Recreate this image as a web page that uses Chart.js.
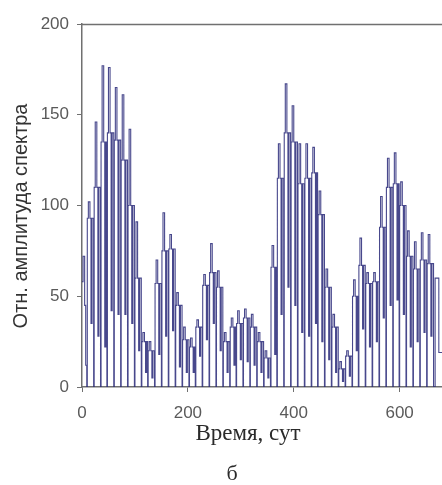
<!DOCTYPE html>
<html>
<head>
<meta charset="utf-8">
<script src="https://cdn.jsdelivr.net/npm/chart.js@4/dist/chart.umd.min.js"></script>
<style>
  html, body { margin: 0; padding: 0; background: #fff; }
  #wrap { width: 442px; height: 485px; position: relative; }
</style>
</head>
<body>
<div id="wrap"><canvas id="chart"></canvas></div>
<script>
// Leading segment before the first full cycle (days, values)
const leadDays = [0, 2, 5, 7];
const leadValues = [58, 72, 45, 12];

// Day of each cycle start (signal touches zero)
const cycleStart = [9, 22, 35, 47, 60, 73, 86, 99, 112, 124, 137, 150, 163, 176, 189, 202, 214,
  227, 240, 253, 266, 279, 291, 304, 317, 330, 343, 356, 368, 381, 394, 407, 420, 433,
  445, 458, 471, 484, 497, 510, 522, 535, 548, 561, 574, 587, 599, 612, 625, 638, 651];

// Peak level of each cycle
const cyclePeak = [102, 146, 177, 176, 165, 161, 142, 91, 30, 25, 70, 96, 84, 52, 33, 27, 37,
  62, 79, 64, 30, 38, 42, 43, 40, 30, 20, 78, 134, 167, 155, 134, 134,
  132, 108, 65, 40, 14, 20, 59, 82, 63, 63, 105, 126, 129, 113, 86, 80, 85, 84];

// Shoulder level around the peak
const cycleShoulder = [93, 110, 135, 140, 136, 125, 100, 60, 25, 20, 57, 75, 76, 45, 26, 22, 33,
  56, 63, 55, 25, 33, 35, 38, 33, 25, 16, 66, 115, 140, 135, 112, 115,
  118, 95, 55, 33, 10, 17, 50, 67, 57, 58, 88, 110, 112, 100, 72, 65, 70, 68];

// Partial dip inside each cycle
const cycleDip = [35, 28, 22, 42, 40, 40, 35, 20, 8, 5, 18, 28, 31, 11, 8, 8, 17,
  26, 35, 20, 8, 12, 15, 14, 12, 8, 5, 18, 40, 55, 45, 30, 28,
  35, 25, 15, 8, 3, 6, 20, 32, 22, 25, 38, 45, 48, 40, 22, 25, 30, 28];

// Trailing segment after the last cycle
const tailDays = [664, 667, 674, 680];
const tailValues = [0, 60, 19, 19];

const xTicks = [0, 200, 400, 600];
const yTicks = [0, 50, 100, 150, 200];

const points = [];
leadDays.forEach((d, i) => points.push({ x: d, y: leadValues[i] }));
cycleStart.forEach((z, k) => {
  points.push({ x: z, y: 0 });
  points.push({ x: z + 1, y: cycleShoulder[k] });
  points.push({ x: z + 3, y: cyclePeak[k] });
  points.push({ x: z + 6, y: cycleShoulder[k] });
  points.push({ x: z + 8, y: cycleDip[k] });
  points.push({ x: z + 10, y: cycleShoulder[k] });
});
tailDays.forEach((d, i) => points.push({ x: d, y: tailValues[i] }));

const AXIS = '#707070';
const TICK_TEXT = '#5a5a5a';

const textPlugin = {
  id: 'frameText',
  afterDraw(chart) {
    const { ctx, chartArea } = chart;
    ctx.save();
    // top border
    ctx.strokeStyle = AXIS;
    ctx.lineWidth = 1.5;
    ctx.beginPath();
    ctx.moveTo(chartArea.left, chartArea.top + 0.5);
    ctx.lineTo(chartArea.right, chartArea.top + 0.5);
    ctx.stroke();

    ctx.fillStyle = '#2a2a2a';
    ctx.textAlign = 'center';
    ctx.textBaseline = 'middle';
    ctx.font = '23px "Liberation Serif", "Times New Roman", serif';
    ctx.fillText('Время, сут', 248, 434);
    ctx.font = '22px "Liberation Serif", "Times New Roman", serif';
    ctx.fillText('б', 232, 474);

    ctx.translate(21, 216);
    ctx.rotate(-Math.PI / 2);
    ctx.fillStyle = '#333';
    ctx.font = '20px "Liberation Sans", Arial, sans-serif';
    ctx.fillText('Отн. амплитуда спектра', 0, 0);
    ctx.restore();
  }
};

new Chart(document.getElementById('chart'), {
  type: 'line',
  data: {
    datasets: [{
      data: points,
      borderColor: 'rgba(40, 40, 120, 0.85)',
      borderWidth: 1.1,
      pointRadius: 0,
      stepped: true,
      fill: false,
    }],
  },
  options: {
    responsive: true,
    maintainAspectRatio: false,
    animation: false,
    layout: { padding: { top: 24, right: 0, left: 0, bottom: 0 } },
    plugins: { legend: { display: false }, tooltip: { enabled: false } },
    scales: {
      x: {
        type: 'linear',
        min: 0,
        max: 680,
        afterFit: (s) => { s.height = 98; },
        afterBuildTicks: (s) => { s.ticks = xTicks.map(v => ({ value: v })); },
        ticks: {
          color: TICK_TEXT,
          font: { family: '"Liberation Sans Narrow", "Liberation Sans", Arial, sans-serif', size: 17 },
          padding: 11,
          maxRotation: 0,
        },
        grid: { drawOnChartArea: false, tickLength: 5, color: AXIS },
        border: { color: AXIS, width: 1.5 },
      },
      y: {
        min: 0,
        max: 200,
        afterFit: (s) => { s.width = 82; },
        afterBuildTicks: (s) => { s.ticks = yTicks.map(v => ({ value: v })); },
        ticks: {
          color: TICK_TEXT,
          font: { family: '"Liberation Sans Narrow", "Liberation Sans", Arial, sans-serif', size: 17 },
          padding: 8,
        },
        grid: { drawOnChartArea: false, tickLength: 5, color: AXIS },
        border: { color: AXIS, width: 1.5 },
      },
    },
  },
  plugins: [textPlugin],
});
</script>
</body>
</html>
